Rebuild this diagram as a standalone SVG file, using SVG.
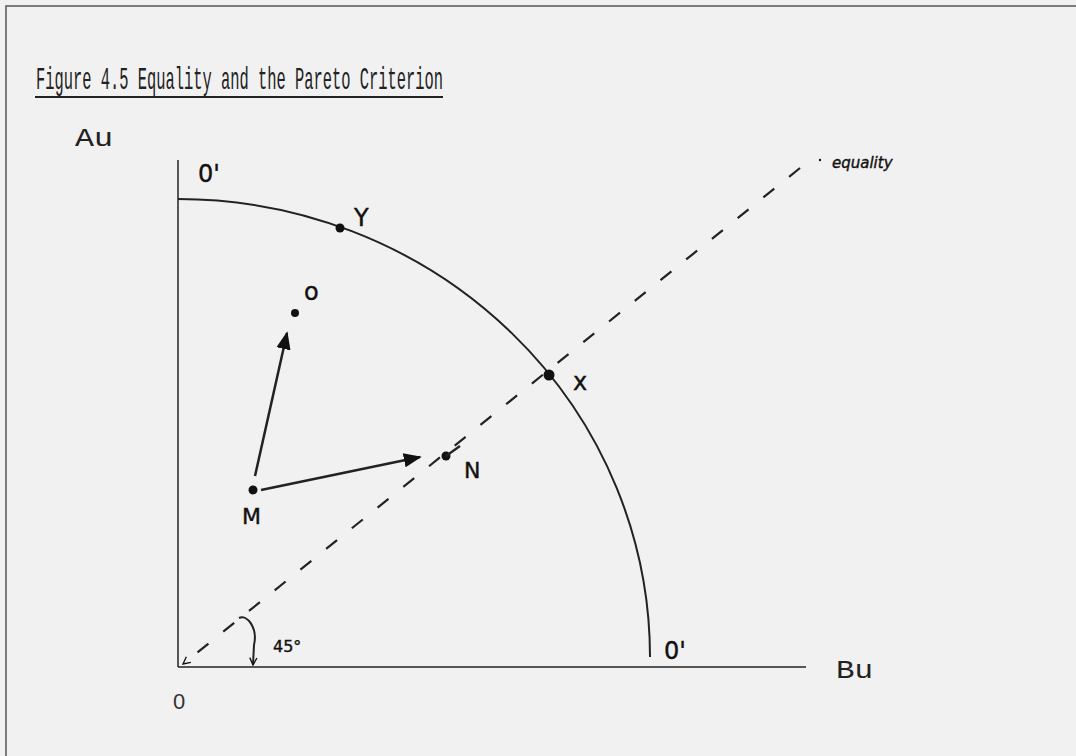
<svg xmlns="http://www.w3.org/2000/svg" width="1076" height="756" viewBox="0 0 1076 756">
<defs>
<style>
.mono{font-family:"Liberation Mono","DejaVu Sans Mono",monospace;fill:#222}
.hand{font-family:"DejaVu Sans","Liberation Sans",sans-serif;fill:#111;stroke:#111;stroke-width:0.4}
.ln{stroke:#222;fill:none}
.dot{fill:#111}
</style>
<marker id="ah2" viewBox="0 0 10 10" refX="9" refY="5" markerWidth="18" markerHeight="18" markerUnits="userSpaceOnUse" orient="auto">
<path d="M0,1 L10,5 L0,9 z" fill="#111"/>
</marker>
<marker id="open" viewBox="0 0 10 10" refX="9" refY="5" markerWidth="9" markerHeight="9" markerUnits="userSpaceOnUse" orient="auto">
<path d="M1,1 L9,5 L1,9" fill="none" stroke="#111" stroke-width="1.5"/>
</marker>
</defs>
<rect width="1076" height="756" fill="#f1f1f1"/>
<path d="M6,760 V6 H1080" fill="none" stroke="#555" stroke-width="1.5"/>
<g id="title">
<text class="mono" x="36" y="89" font-size="32" textLength="407" lengthAdjust="spacingAndGlyphs">Figure 4.5 Equality and the Pareto Criterion</text>
<line x1="35" y1="97" x2="443" y2="97" stroke="#222" stroke-width="2"/>
</g>
<g id="axes">
<line class="ln" x1="178" y1="160" x2="178" y2="667" stroke-width="1.5"/>
<line class="ln" x1="178" y1="667" x2="806" y2="667" stroke-width="1.5"/>
<text class="mono" x="75" y="146" font-size="26" textLength="38" lengthAdjust="spacingAndGlyphs">Au</text>
<text class="mono" x="836" y="678" font-size="26" textLength="37" lengthAdjust="spacingAndGlyphs">Bu</text>
<text x="173" y="709" font-family="Liberation Sans, sans-serif" font-size="22" font-weight="300" fill="#333">0</text>
</g>
<g id="frontier">
<path class="ln" d="M178,199 A472,458 0 0 1 650,657" stroke-width="2"/>
<text class="hand" x="198" y="182" font-size="24">0'</text>
<text class="hand" x="664" y="659" font-size="24">0'</text>
</g>
<g id="equality-line">
<path class="ln" d="M800,168 L183,664" stroke-width="2.2" stroke-dasharray="14 19" marker-end="url(#open)"/>
<circle class="dot" cx="820" cy="160" r="1.2"/>
<text class="hand" x="832" y="168" font-size="15" font-style="italic" stroke-width="0.2">equality</text>
</g>
<g id="point-Y">
<circle class="dot" cx="340" cy="228" r="4.5"/>
<text class="hand" x="354" y="226" font-size="24">Y</text>
</g>
<g id="point-X">
<circle class="dot" cx="549" cy="375" r="5.5"/>
<text class="hand" x="573" y="390" font-size="24">x</text>
</g>
<g id="point-O">
<circle class="dot" cx="295" cy="313" r="4"/>
<text class="hand" x="304" y="300" font-size="24">o</text>
</g>
<g id="point-N">
<circle class="dot" cx="446" cy="456" r="4.5"/>
<line class="ln" x1="446" y1="456" x2="460" y2="446" stroke-width="2.2"/>
<text class="hand" x="464" y="478" font-size="22">N</text>
</g>
<g id="point-M">
<circle class="dot" cx="253" cy="490" r="4.5"/>
<text class="hand" x="242" y="524" font-size="22">M</text>
</g>
<g id="connectors">
<line class="ln" x1="255" y1="476" x2="287" y2="333" stroke-width="2.5" marker-end="url(#ah2)"/>
<line class="ln" x1="261" y1="490" x2="420" y2="457" stroke-width="2.5" marker-end="url(#ah2)"/>
<path class="ln" d="M239,618 C247,614 258,628 254,645 L253,665" stroke-width="2" marker-end="url(#open)"/>
<text class="hand" x="273" y="652" font-size="16" stroke-width="0.2">45°</text>
</g>
</svg>
